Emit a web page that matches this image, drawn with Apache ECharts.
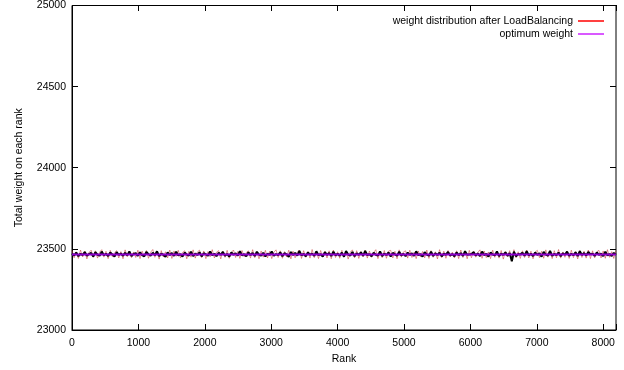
<!DOCTYPE html>
<html><head><meta charset="utf-8">
<script src="https://cdn.jsdelivr.net/npm/echarts@6/dist/echarts.min.js"></script>
<style>html,body{margin:0;padding:0;background:#fff}#c{width:624px;height:370px}</style>
</head><body><div id="c"></div>
<script>
// x range and tick labels
var xMax = 8192;
var xTicks = [0,1000,2000,3000,4000,5000,6000,7000,8000];
var yTicks = [23000,23500,24000,24500,25000];
// total weight per rank (sampled), black trace
var weightBlack = [
23472,23459,23478,23455,23470,23462,23481,23457,23468,23475,23453,23479,23464,23458,23483,23461,23470,23456,23477,23466,23452,23480,23463,23471,23458,23476,23460,23484,23455,23469,
23473,23457,23479,23462,23454,23481,23467,23459,23476,23461,23485,23456,23470,23464,23451,23478,23462,23474,23457,23482,23460,23468,23453,23477,23465,23459,23483,23456,23471,23462,
23479,23454,23473,23466,23458,23484,23461,23470,23455,23476,23463,23481,23457,23469,23452,23478,23464,23472,23458,23486,23460,23467,23454,23479,23462,23474,23456,23482,23465,23459,
23476,23453,23470,23463,23484,23457,23468,23461,23479,23455,23473,23466,23451,23481,23462,23475,23458,23487,23460,23469,23454,23478,23464,23471,23457,23485,23461,23467,23453,23480,
23463,23474,23456,23483,23460,23470,23458,23477,23452,23486,23465,23459,23481,23455,23472,23463,23479,23457,23488,23461,23468,23454,23476,23464,23459,23484,23456,23471,23462,23478,
23453,23475,23466,23458,23482,23460,23469,23455,23477,23463,23472,23457,23485,23461,23467,23452,23479,23465,23458,23483,23456,23473,23462,23476,23454,23470,23464,23481,23459,23468,
23455,23478,23461,23474,23457,23486,23463,23466,23468,23480,23459,23472,23456,23483,23462,23469,23453,23477,23465,23460,23484,23455,23471,23463,23479,23457,23474,23424,23482,23454,
23468,23466,23476,23458,23485,23460,23470,23456,23478,23463,23472,23452,23481,23465,23459,23487,23457,23469,23462,23477,23455,23473,23464,23483,23458,23470,23461,23479,23456,23486,
23462,23474,23459,23481,23466,23471,23457,23478,23463,23470,23455,23483,23460,23468,23456,23475,23464
];
// weight distribution after LoadBalancing (red trace)
var weightRed = [
23490,23445,23482,23441,23493,23450,23486,23438,23478,23492,23447,23488,23443,23480,23495,23449,23485,23440,23491,23452,23476,23489,23444,23483,23439,23494,23451,23487,23446,23481,
23447,23492,23440,23486,23453,23490,23442,23479,23496,23448,23484,23437,23489,23450,23482,23444,23493,23441,23487,23454,23491,23445,23478,23488,23439,23485,23449,23494,23443,23481,
23492,23446,23487,23440,23483,23451,23495,23444,23480,23489,23438,23486,23448,23491,23442,23479,23493,23447,23484,23441,23490,23452,23477,23488,23443,23495,23446,23482,23439,23487,
23449,23491,23444,23485,23440,23480,23494,23447,23488,23442,23483,23450,23492,23438,23486,23445,23479,23493,23441,23489,23448,23484,23443,23496,23446,23481,23440,23490,23451,23485,
23444,23488,23439,23493,23447,23482,23442,23491,23449,23486,23437,23480,23494,23445,23489,23441,23484,23450,23492,23443,23487,23448,23478,23495,23440,23483,23446,23490,23442,23486,
23491,23444,23485,23439,23494,23449,23481,23488,23443,23492,23447,23479,23440,23487,23451,23484,23445,23493,23441,23489,23448,23482,23438,23495,23446,23486,23442,23490,23450,23480,
23444,23488,23440,23493,23447,23483,23439,23491,23445,23486,23449,23478,23494,23442,23487,23446,23481,23440,23492,23448,23485,23443,23490,23437,23484,23451,23489,23430,23495,23445,
23482,23441,23488,23447,23493,23444,23486,23439,23480,23491,23446,23485,23442,23494,23449,23483,23440,23489,23445,23496,23443,23481,23448,23487,23441,23492,23446,23484,23438,23490,
23447,23486,23443,23493,23440,23488,23445,23482,23491,23444,23487,23442,23495,23448,23483,23441,23489
];
var optimumWeight = 23466;
var lastRank = 8191;

function pairs(arr){
  var n = arr.length, out = [];
  for (var i=0;i<n;i++) out.push([Math.round(i*lastRank/(n-1)), arr[i]]);
  return out;
}

var FONT = 'Liberation Sans, Arial, Helvetica, sans-serif';
var chart = echarts.init(document.getElementById('c'), null, {renderer:'canvas'});
var yMin = yTicks[0], yMax = yTicks[yTicks.length-1];
function plain(v){ return String(v); }
var off = {axisLine:{show:false}, axisTick:{show:false}, axisLabel:{show:false}};
function hiddenAxis(g){ return {gridIndex:g, type:'value', min:0, max:1, show:false}; }
function tickAxisX(g){ return Object.assign({gridIndex:g, type:'value', min:0, max:xMax, interval:1000,
  splitLine:{show:true, lineStyle:{color:'#000', width:1}}}, off); }
function tickAxisY(g){ return Object.assign({gridIndex:g, type:'value', min:yMin, max:yMax, interval:500,
  splitLine:{show:true, lineStyle:{color:'#000', width:1}}}, off); }

chart.setOption({
  animation:false,
  backgroundColor:'#fff',
  textStyle:{fontFamily:FONT},
  grid:[
    {left:72, top:5, right:8, bottom:40, containLabel:false, show:true, borderColor:'#000', borderWidth:1, backgroundColor:'transparent'},
    {left:72, top:5, width:6, bottom:40},      // left ticks
    {left:610, top:5, right:8, bottom:40},     // right ticks
    {left:72, right:8, top:324, bottom:40},    // bottom ticks
    {left:72, right:8, top:5, height:6}        // top ticks
  ],
  legend:{
    data:[{name:'weight distribution after LoadBalancing', itemStyle:{color:'#ff0000'}},
          {name:'optimum weight', itemStyle:{color:'#cc22ff'}}],
    orient:'vertical', right:15, top:10, align:'right',
    itemWidth:26, itemHeight:1.5, itemGap:1, icon:'rect',
    textStyle:{fontFamily:FONT, fontSize:10.5, color:'#000', lineHeight:12}
  },
  xAxis:[{
    gridIndex:0, type:'value', min:0, max:xMax, interval:1000, position:'bottom',
    name:'Rank', nameLocation:'middle', nameGap:24,
    nameTextStyle:{fontFamily:FONT, fontSize:10.5, color:'#000'},
    axisLine:{show:true, onZero:false, lineStyle:{color:'#000', width:1}},
    axisTick:{show:false}, splitLine:{show:false},
    axisLabel:{color:'#000', fontSize:10.5, fontFamily:FONT, margin:8, showMaxLabel:false,
      formatter:function(v){return xTicks.indexOf(v)>=0 ? String(v) : '';}}
  },
    hiddenAxis(1), hiddenAxis(2), tickAxisX(3), tickAxisX(4)
  ],
  yAxis:[{
    gridIndex:0, type:'value', min:yMin, max:yMax, interval:500, position:'left',
    name:'Total weight on each rank', nameLocation:'middle', nameGap:47, nameRotate:90,
    nameTextStyle:{fontFamily:FONT, fontSize:10.5, color:'#000'},
    axisLine:{show:true, onZero:false, lineStyle:{color:'#000', width:1}},
    axisTick:{show:false}, splitLine:{show:false},
    axisLabel:{color:'#000', fontSize:10.5, fontFamily:FONT, margin:6, formatter:plain}
  },
    tickAxisY(1), tickAxisY(2), hiddenAxis(3), hiddenAxis(4)
  ],
  series:[
    {name:'weight distribution after LoadBalancing', type:'line', data:pairs(weightRed),
     showSymbol:false, symbol:'none', color:'#ff0000',
     lineStyle:{color:'rgba(200,60,60,0.55)', width:1}, z:2},
    {name:'weight black', type:'line', data:pairs(weightBlack), showSymbol:false, symbol:'none',
     color:'#000', lineStyle:{color:'#000', width:2}, z:3},
    {name:'optimum weight', type:'line', data:[[0,optimumWeight],[lastRank,optimumWeight]],
     showSymbol:false, symbol:'none', color:'#9000d0', lineStyle:{color:'#9000d0', width:2}, z:4}
  ]
});
</script></body></html>
